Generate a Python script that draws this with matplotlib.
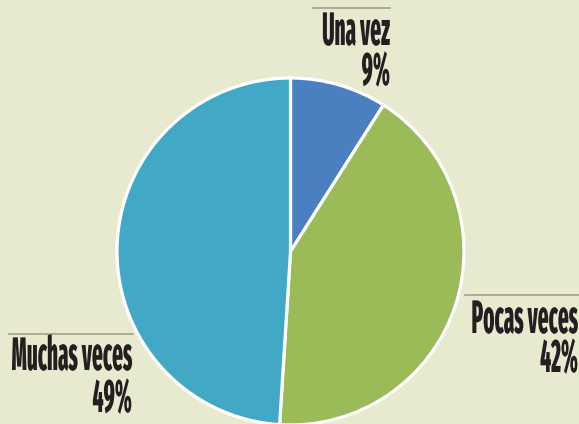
import matplotlib
matplotlib.use("Agg")
import matplotlib.pyplot as plt
import matplotlib.patheffects as pe
from matplotlib.transforms import Affine2D

etiquetas = ["Una vez", "Pocas veces", "Muchas veces"]
valores = [9, 42, 49]
colores = ["#4a80bf", "#9bbb59", "#41a9c6"]

fondo = "#e8eacf"
texto_color = "#231f20"


# estira el texto en vertical desde la linea de base (fuente muy condensada)
class Alto(pe.AbstractPathEffect):
    def __init__(self, sy):
        super().__init__()
        self.sy = sy

    def draw_path(self, renderer, gc, tpath, affine, rgbFace=None):
        yb = affine.transform((0, 0))[1]
        t = affine + Affine2D().translate(0, -yb).scale(1, self.sy).translate(0, yb)
        renderer.draw_path(gc, tpath, t, rgbFace)


fig = plt.figure(figsize=(5.79, 4.24), dpi=100, facecolor=fondo)
ax = fig.add_axes([0, 0, 1, 1])
ax.set_facecolor(fondo)

H = 424
ax.pie(valores, colors=colores, startangle=90, counterclock=False,
       center=(290.5, H - 251.5), radius=173.5,
       wedgeprops=dict(edgecolor="white", linewidth=2.3))
ax.set_xlim(0, 579)
ax.set_ylim(0, H)
ax.set_aspect("equal")
ax.axis("off")

estilo = dict(fontsize=16.5, fontweight=800, family="Fira Sans Extra Condensed",
              color=texto_color, ha="right", va="baseline",
              path_effects=[Alto(2.05)])

# (x derecha, linea de base nombre, linea de base %, linea superior x0, x1, y)
posiciones = [
    (390, 45, 85, 313, 390, 8),
    (578, 333, 372, 465, 579, 295),
    (132, 370, 412, 9, 133, 334),
]

for nombre, v, (xr, b1, b2, lx0, lx1, ly) in zip(etiquetas, valores, posiciones):
    ax.text(xr, H - b1, nombre, **estilo)
    ax.text(xr, H - b2, f"{v}%", **estilo)
    ax.plot([lx0, lx1], [H - ly, H - ly], color="#9a9a88", lw=1.1)

fig.savefig("out.png", dpi=100, facecolor=fondo)
